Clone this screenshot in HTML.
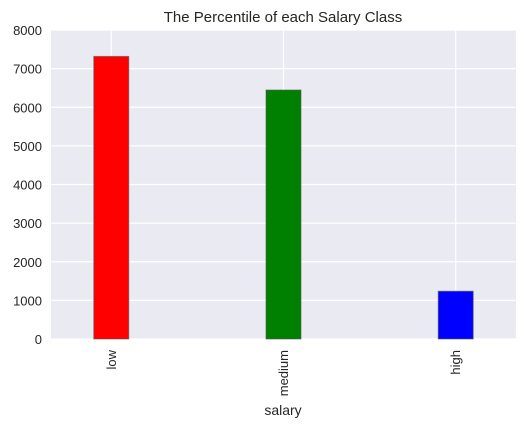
<!DOCTYPE html>
<html><head><meta charset="utf-8"><style>
html,body{margin:0;padding:0;background:#fff;}
svg{display:block;font-family:"Liberation Sans",Arial,sans-serif;}
</style></head><body>
<svg id="chart" width="525" height="429" viewBox="0 0 525 429" xmlns="http://www.w3.org/2000/svg">
<rect x="51" y="30" width="465" height="309" fill="#eaeaf2"/>
<g id="grid"></g>
<g id="bars"></g>
<g id="yticks"></g>
<g id="xticks"></g>
<text x="283" y="22" text-anchor="middle" font-size="15" fill="#262626">The Percentile of each Salary Class</text>
<text x="283" y="415" text-anchor="middle" font-size="14" fill="#262626">salary</text>
</svg>
<script>
const categories = ["low", "medium", "high"];
const counts = [7316, 6446, 1237];
const colors = ["#ff0000", "#008000", "#0000ff"];
const yTicks = [0, 1000, 2000, 3000, 4000, 5000, 6000, 7000, 8000];

const NS = "http://www.w3.org/2000/svg";
const L = 51, R = 516, T = 30, B = 339, yMax = 8000;
const step = (R - L) / (categories.length - 0.3);
const xPos = i => L + step * 0.35 + i * step;
const yPos = v => B - (v / yMax) * (B - T);
const bw = 35;
function mk(tag, attrs, parent) {
  const e = document.createElementNS(NS, tag);
  for (const k in attrs) e.setAttribute(k, attrs[k]);
  parent.appendChild(e);
  return e;
}
const grid = document.getElementById("grid");
const bars = document.getElementById("bars");
const yt = document.getElementById("yticks");
const xt = document.getElementById("xticks");
yTicks.forEach(v => {
  const ln = mk("line", {x1: L, x2: R, y1: yPos(v), y2: yPos(v), stroke: "#fff", "stroke-width": 1.2}, grid);
  
  
  const t = mk("text", {x: L - 9, y: yPos(v) + 5, "text-anchor": "end", "font-size": 13, fill: "#262626"}, yt);
  t.textContent = v;
  
  
});
categories.forEach((c, i) => {
  const ln = mk("line", {x1: xPos(i), x2: xPos(i), y1: T, y2: B, stroke: "#fff", "stroke-width": 1.2}, grid);
  
  
  const r = mk("rect", {x: xPos(i) - bw / 2, y: yPos(counts[i]), width: bw, height: B - yPos(counts[i]), fill: colors[i], stroke: "#555", "stroke-opacity": 0.6, "stroke-width": 1}, bars);
  
  
  const x = xPos(i) + 4.5, y = 350;
  const t = mk("text", {x: x, y: y, "text-anchor": "end", "font-size": 13, fill: "#262626", transform: `rotate(-90 ${x} ${y})`}, xt);
  t.textContent = c;
  
  
});
</script>
</body></html>
